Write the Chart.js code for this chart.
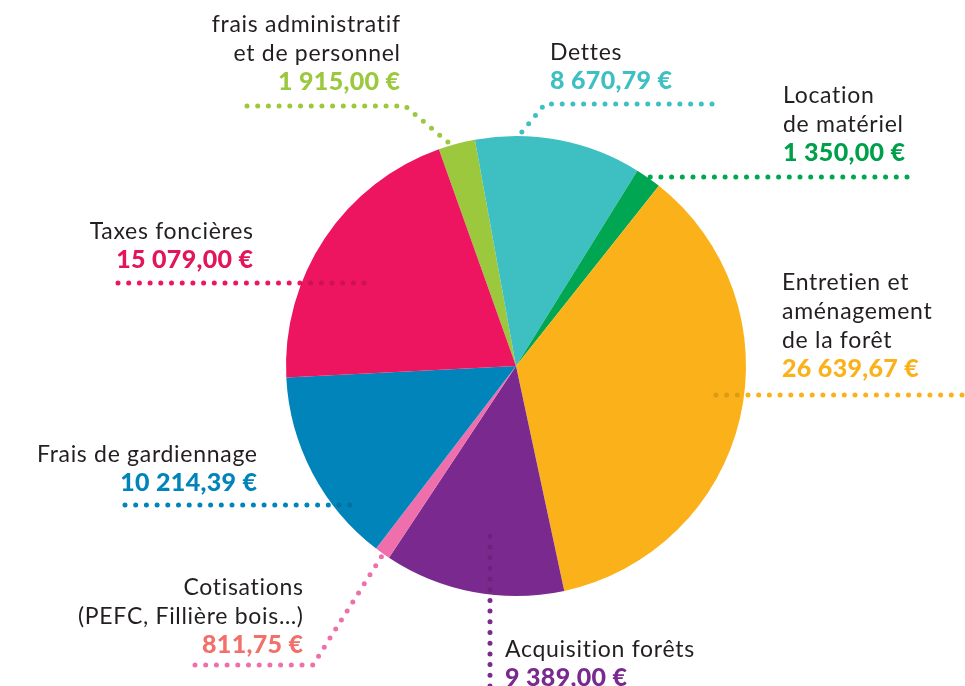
<!DOCTYPE html>
<html>
<head>
<meta charset="utf-8">
<script src="https://cdn.jsdelivr.net/npm/chart.js@4"></script>
<style>
  html, body { margin: 0; padding: 0; background: #fff; }
  #wrap { width: 965px; height: 686px; }
</style>
</head>
<body>
<div id="wrap"><canvas id="pie" width="965" height="686"></canvas></div>
<script>
// categories, clockwise from the top
const categories = [
  'frais administratif et de personnel',
  'Dettes',
  'Location de matériel',
  'Entretien et aménagement de la forêt',
  'Acquisition forêts',
  'Cotisations (PEFC, Fillière bois…)',
  'Frais de gardiennage',
  'Taxes foncières'
];
const amounts = [1915.00, 8670.79, 1350.00, 26639.67, 9389.00, 811.75, 10214.39, 15079.00];
const sliceColors = ['#9BC83C', '#3EC0C3', '#00A651', '#FBB21A', '#7A2A8E', '#EE6FAC', '#0084BA', '#ED1460'];
const valueColors = ['#9BC83C', '#3EC0C3', '#00A04B', '#FBB21A', '#7A2A8E', '#F26F6A', '#0084BA', '#E3145C'];
const labelLines = [
  ['frais administratif', 'et de personnel'],
  ['Dettes'],
  ['Location', 'de matériel'],
  ['Entretien et', 'aménagement', 'de la forêt'],
  ['Acquisition forêts'],
  ['Cotisations', '(PEFC, Fillière bois…)'],
  ['Frais de gardiennage'],
  ['Taxes foncières']
];

function euro(v) {
  const parts = v.toFixed(2).split('.');
  const int = parts[0].replace(/\B(?=(\d{3})+(?!\d))/g, ' ');
  return int + ',' + parts[1] + ' €';
}

// label placement: x, first baseline, text align, leader path
const labelLayout = [
  { x: 400, y: 32, align: 'right', leader: [[247, 106], [405, 106], [455, 148]] },
  { x: 550, y: 60, align: 'left', leader: [[712, 104], [545, 104], [521, 133]] },
  { x: 783, y: 103, align: 'left', leader: [[907, 177], [645, 177]] },
  { x: 782, y: 290, align: 'left', leader: [[962, 395], [708, 395]] },
  { x: 505, y: 657, align: 'left', leader: [[490, 686], [490, 532]] },
  { x: 303, y: 595, align: 'right', leader: [[195, 665], [313, 665], [385, 551]] },
  { x: 257, y: 462, align: 'right', leader: [[125, 505], [352, 505]] },
  { x: 253, y: 239, align: 'right', leader: [[118, 283], [370, 283]] }
];

function drawText(ctx, text, x, y, align, spacing) {
  // manual spacing so right-aligned text keeps its right edge
  ctx.letterSpacing = spacing + 'px';
  const w = ctx.measureText(text).width - spacing;
  ctx.textAlign = 'left';
  ctx.fillText(text, align === 'right' ? x - w : x, y);
}

const calloutPlugin = {
  id: 'callouts',
  afterDatasetsDraw(chart) {
    const ctx = chart.ctx;
    const arc = chart.getDatasetMeta(0).data[0];
    const cx = arc.x, cy = arc.y, r = arc.outerRadius;

    labelLayout.forEach((lay, i) => {
      const pts = lay.leader;
      const path = () => {
        ctx.beginPath();
        ctx.moveTo(pts[0][0], pts[0][1]);
        for (let k = 1; k < pts.length; k++) ctx.lineTo(pts[k][0], pts[k][1]);
      };
      ctx.save();
      ctx.lineWidth = 5;
      ctx.lineCap = 'round';
      ctx.setLineDash([0, 10.7]);
      ctx.strokeStyle = sliceColors[i];
      path();
      ctx.stroke();
      // dots over the pie look a bit darker
      ctx.beginPath();
      ctx.arc(cx, cy, r, 0, Math.PI * 2);
      ctx.clip();
      ctx.strokeStyle = 'rgba(0,0,0,0.13)';
      path();
      ctx.stroke();
      ctx.restore();

      ctx.save();
      ctx.textBaseline = 'alphabetic';
      ctx.fillStyle = '#231F20';
      ctx.font = '23px Lato';
      let y = lay.y;
      labelLines[i].forEach(line => {
        drawText(ctx, line, lay.x, y, lay.align, 0.7);
        y += 29;
      });
      ctx.fillStyle = valueColors[i];
      ctx.font = '900 25px Lato';
      drawText(ctx, euro(amounts[i]), lay.x, y, lay.align, 0.3);
      ctx.restore();
    });
  }
};

new Chart(document.getElementById('pie'), {
  type: 'pie',
  data: {
    labels: categories,
    datasets: [{
      data: amounts,
      backgroundColor: sliceColors,
      borderWidth: 0
    }]
  },
  options: {
    responsive: false,
    animation: false,
    rotation: -19.6,
    layout: { padding: { left: 286, right: 219, top: 136, bottom: 90 } },
    plugins: {
      legend: { display: false },
      tooltip: { enabled: false }
    }
  },
  plugins: [calloutPlugin]
});
</script>
</body>
</html>
